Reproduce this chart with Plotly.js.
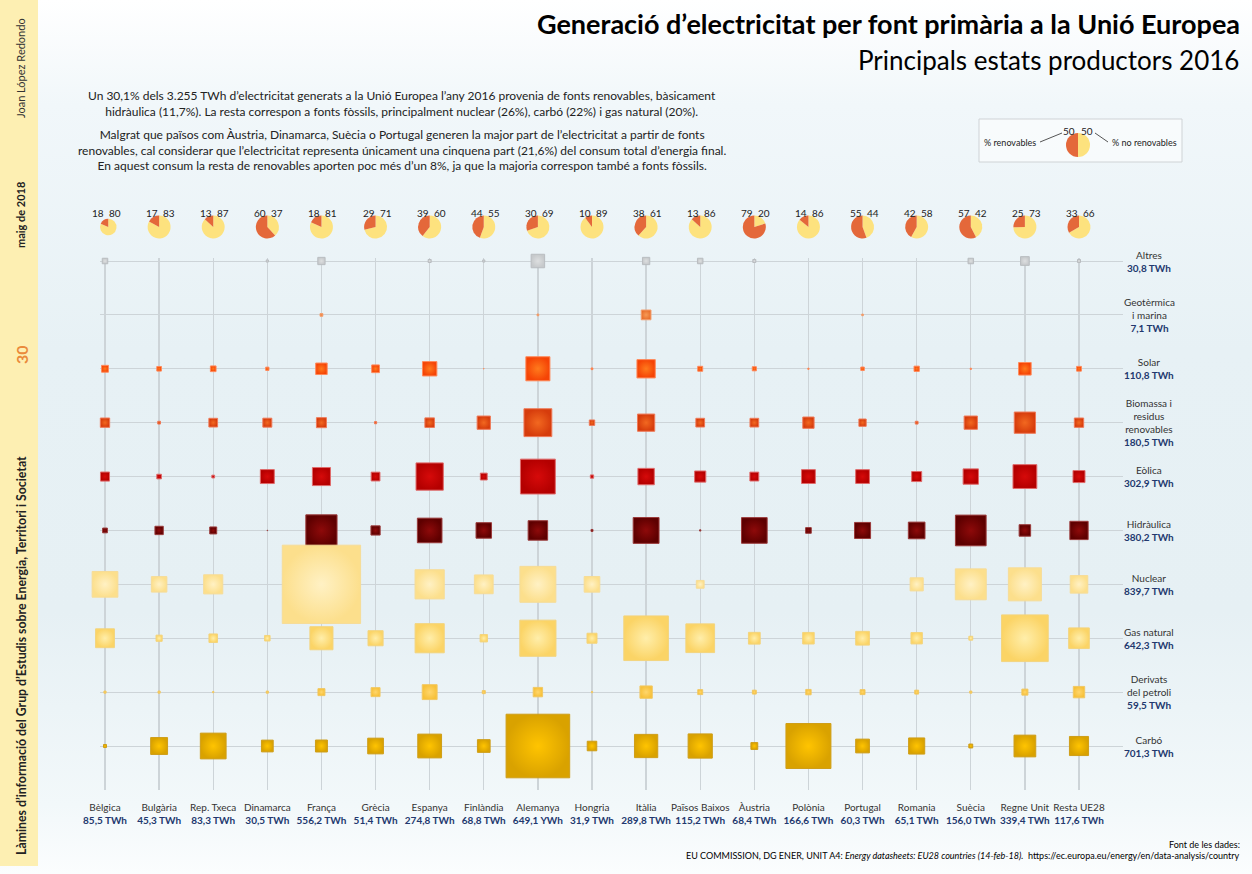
<!DOCTYPE html>
<html><head><meta charset="utf-8">
<script src="https://cdn.plot.ly/plotly-3.0.1.min.js"></script>
<style>
html,body{margin:0;padding:0;}
#chart{width:1252px;height:874px;background:linear-gradient(to bottom,#ffffff 0%,#f1f7fa 12%,#e7f1f5 40%,#e6f0f4 70%,#f2f8fa 92%,#fbfdfe 100%);}
</style></head><body><div id="chart"></div>
<script>
// ---------------- DATA ----------------
const countries = ['Bèlgica','Bulgària','Rep. Txeca','Dinamarca','França','Grècia','Espanya','Finlàndia','Alemanya','Hongria','Itàlia','Països Baixos','Àustria','Polònia','Portugal','Romania','Suècia','Regne Unit','Resta UE28'];
const countryTotalLabels = ['85,5 TWh','45,3 TWh','83,3 TWh','30,5 TWh','556,2 TWh','51,4 TWh','274,8 TWh','68,8 TWh','649,1 YWh','31,9 TWh','289,8 TWh','115,2 TWh','68,4 TWh','166,6 TWh','60,3 TWh','65,1 TWh','156,0 TWh','339,4 TWh','117,6 TWh'];
const renPct    = [18,17,13,60,18,29,39,44,30,10,38,13,79,14,55,42,57,25,33];
const nonRenPct = [80,83,87,37,81,71,60,55,69,89,61,86,20,86,44,58,42,73,66];

const sourceNames  = ['Altres','Geotèrmica<br>i marina','Solar','Biomassa i<br>residus<br>renovables','Eòlica','Hidràulica','Nuclear','Gas natural','Derivats<br>del petroli','Carbó'];
const sourceTotals = ['30,8 TWh','7,1 TWh','110,8 TWh','180,5 TWh','302,9 TWh','380,2 TWh','839,7 TWh','642,3 TWh','59,5 TWh','701,3 TWh'];

// TWh per country (same order as countries)
const altres     = [2.0,0,0,0.3,3.5,0,0.6,0.3,12,0,3.5,2.0,0.6,0,0,0,2.0,5.0,0.6];
const geotermica = [0,0,0,0,0.5,0,0,0,0.2,0,6.3,0,0,0,0.17,0,0,0,0];
const solar      = [3.1,1.4,2.1,0.7,8.7,3.9,13.6,0.02,38.1,0.2,22.1,1.6,1.1,0.1,0.8,1.8,0.1,10.4,1.5];
const biomassa   = [5.7,0.5,5.0,5.3,6.6,0.3,6.0,11.6,51,1.9,19.5,5.0,5.0,8.4,3.5,0.5,11.6,29.8,5.7];
const eolica     = [5.4,1.4,0.5,12.8,21.4,5.1,48.9,3.1,79.9,0.7,17.7,8.2,5.2,12.6,12.5,6.6,15.5,37.3,9.5];
const hidraulica = [1.5,4.6,3.2,0.02,64,5.6,39.8,15.8,25,0.26,44,0.1,43.3,2.1,16.9,18.3,62,8.7,22];
const nuclear    = [43.5,15.8,24.1,0,403.2,0,56.1,23.2,84.9,16.1,0,4.0,0,0,0,11.3,62.9,71.7,20.3];
const gasNatural = [23.4,2.5,4.8,2.0,35,15,55.9,3.6,86,6.6,131,54.2,9.1,8.8,12.4,8.5,1.0,143.4,28];
const petroli    = [0.3,0.3,0.1,0.3,3.2,5.3,14.6,0.6,5.8,0.1,10,1.6,1.0,1.9,1.6,1.0,0.3,2.4,8.5];
const carbo      = [0.6,18.8,43.6,9.1,9.4,16.2,37.2,10.6,266,6.0,35.6,38.5,3.1,133,12.4,17.1,1.0,31,24];

const sourceValues = [altres,geotermica,solar,biomassa,eolica,hidraulica,nuclear,gasNatural,petroli,carbo];

// ---------------- STYLE ----------------
const edgeColors   = ['#c6c9cb','#e8702e','#f54406','#d63c0c','#b40000','#5e0000','#fcdf8c','#fbd466','#f7c13a','#d9a200'];
const centerColors = ['#dddfe0','#f79a56','#ff7a1c','#f26820','#d60a0a','#8e0a0a','#fff1c4','#ffeeaa','#ffd66c','#ffc400'];
const lineColors   = ['#b9bdc0','#f3a070','#ff8a5a','#ef7a58','#e06a6a','#9a3a3a','#f6dc98','#f3d47e','#f1c864','#cf9e18'];

const W = 1252, H = 874, ML = 100, MR = 129, MT = 100, MB = 84;
const PW = W - ML - MR, PH = H - MT - MB;
const px = x => (x - ML) / PW;
const py = y => (H - MB - y) / PH;

const colStep = 54.11;             // px between columns
const rowStep = 53.9;              // px between rows
const xRange = [-(105 - ML) / colStep, 18 + (1123 - 1079) / colStep];
const yRange = [9 + (790 - 746) / rowStep, -(261 - 258) / rowStep];
const yDomTop = py(258);
const pxPerSqrt = 3.9;             // square side = pxPerSqrt * sqrt(TWh)

const FONT = 'Lato, "Open Sans", sans-serif';
const NAVY = '#22386e';

const traces = [];
sourceValues.forEach((vals, r) => {
  traces.push({
    type: 'scatter', mode: 'markers',
    x: countries.map((c, i) => i),
    y: countries.map(() => r),
    cliponaxis: false,
    hoverinfo: 'skip',
    showlegend: false,
    marker: {
      symbol: 'square',
      opacity: 1,
      size: vals,
      sizemode: 'area',
      sizeref: 2 / (pxPerSqrt * pxPerSqrt),
      color: edgeColors[r],
      gradient: {type: 'radial', color: centerColors[r]},
      line: {width: 1, color: lineColors[r]}
    }
  });
});

const xFrac = i => (i - xRange[0]) / (xRange[1] - xRange[0]);
const pieRowY = py(227);
const pieHalfW = 11.5 / PW, pieHalfH = 11.5 / PH;
const REN_COL = '#e4683a', NONREN_COL = '#fde27e';
// non-renewable slice first, clockwise from 12 o'clock -> renewable slice ends on the left of 12 o'clock
countries.forEach((c, i) => {
  const xc = xFrac(i);
  traces.push({
    type: 'pie', values: [nonRenPct[i], renPct[i]],
    labels: ['% no renovables', '% renovables'],
    sort: false, direction: 'clockwise', rotation: 0,
    textinfo: 'none', hoverinfo: 'skip', showlegend: false,
    marker: {colors: [NONREN_COL, REN_COL], line: {width: 0}},
    domain: {x: [xc - pieHalfW, xc + pieHalfW], y: [pieRowY - pieHalfH, pieRowY + pieHalfH]}
  });
});
// legend pie
traces.push({
  type: 'pie', values: [50, 50], labels: ['% no renovables', '% renovables'],
  sort: false, direction: 'clockwise', rotation: 0,
  textinfo: 'none', hoverinfo: 'skip', showlegend: false,
  marker: {colors: [NONREN_COL, REN_COL], line: {width: 0}},
  domain: {x: [px(1078) - 12 / PW, px(1078) + 12 / PW], y: [py(145) - 12 / PH, py(145) + 12 / PH]}
});

const annotations = [];
// pie numbers
countries.forEach((c, i) => {
  annotations.push({xref: 'x', yref: 'paper', x: i, y: py(213), xshift: -7, xanchor: 'center', yanchor: 'middle', text: String(renPct[i]),
    showarrow: false, font: {family: FONT, size: 10, color: '#222'}});
  annotations.push({xref: 'x', yref: 'paper', x: i, y: py(213), xshift: 10, xanchor: 'center', yanchor: 'middle', text: String(nonRenPct[i]),
    showarrow: false, font: {family: FONT, size: 10, color: '#222'}});
});
// right labels
sourceNames.forEach((s, r) => {
  annotations.push({xref: 'paper', yref: 'y', x: px(1149), y: r, xanchor: 'center', yanchor: 'middle',
    text: s + '<br><b><span style="color:' + NAVY + '">' + sourceTotals[r] + '</span></b>',
    showarrow: false, align: 'center', font: {family: FONT, size: 10, color: '#333'}});
});
// subtitle
annotations.push({xref: 'paper', yref: 'paper', x: px(1241), y: py(60), xanchor: 'right', yanchor: 'middle',
  text: 'Principals estats productors 2016', showarrow: false, font: {family: FONT, size: 26, color: '#000'}});
// paragraphs
annotations.push({xref: 'paper', yref: 'paper', x: px(402), y: py(103.5), xanchor: 'center', yanchor: 'middle', align: 'center',
  text: 'Un 30,1% dels 3.255 TWh d’electricitat generats a la Unió Europea l’any 2016 provenia de fonts renovables, bàsicament<br>hidràulica (11,7%). La resta correspon a fonts fòssils, principalment nuclear (26%), carbó (22%) i gas natural (20%).',
  showarrow: false, font: {family: FONT, size: 12, color: '#222'}});
annotations.push({xref: 'paper', yref: 'paper', x: px(402), y: py(149.5), xanchor: 'center', yanchor: 'middle', align: 'center',
  text: 'Malgrat que països com Àustria, Dinamarca, Suècia o Portugal generen la major part de l’electricitat a partir de fonts<br>renovables, cal considerar que l’electricitat representa únicament una cinquena part (21,6%) del consum total d’energia final.<br>En aquest consum la resta de renovables aporten poc més d’un 8%, ja que la majoria correspon també a fonts fòssils.',
  showarrow: false, font: {family: FONT, size: 12, color: '#222'}});
// legend texts
annotations.push({xref: 'paper', yref: 'paper', x: px(1038), y: py(142), xanchor: 'right', yanchor: 'middle',
  text: '% renovables', showarrow: false, font: {family: FONT, size: 9, color: '#222'}});
annotations.push({xref: 'paper', yref: 'paper', x: px(1110), y: py(142), xanchor: 'left', yanchor: 'middle',
  text: '% no renovables', showarrow: false, font: {family: FONT, size: 9, color: '#222'}});
annotations.push({xref: 'paper', yref: 'paper', x: px(1069), y: py(131), xanchor: 'center', yanchor: 'middle',
  text: '50', showarrow: false, font: {family: FONT, size: 10, color: '#222'}});
annotations.push({xref: 'paper', yref: 'paper', x: px(1087), y: py(131), xanchor: 'center', yanchor: 'middle',
  text: '50', showarrow: false, font: {family: FONT, size: 10, color: '#222'}});
// left band texts
annotations.push({xref: 'paper', yref: 'paper', x: px(21), y: py(68), textangle: -90, xanchor: 'center', yanchor: 'middle',
  text: 'Joan López Redondo', showarrow: false, font: {family: FONT, size: 11, color: '#333'}});
annotations.push({xref: 'paper', yref: 'paper', x: px(21), y: py(215), textangle: -90, xanchor: 'center', yanchor: 'middle',
  text: '<b>maig de 2018</b>', showarrow: false, font: {family: FONT, size: 11, color: '#222'}});
annotations.push({xref: 'paper', yref: 'paper', x: px(21), y: py(355), textangle: -90, xanchor: 'center', yanchor: 'middle',
  text: '<b>30</b>', showarrow: false, font: {family: FONT, size: 16, color: '#ea8a3a'}});
annotations.push({xref: 'paper', yref: 'paper', x: px(21), y: py(656), textangle: -90, xanchor: 'center', yanchor: 'middle',
  text: '<b>Làmines d’informació del Grup d’Estudis sobre Energia, Territori i Societat</b>', showarrow: false, font: {family: FONT, size: 12.3, color: '#222'}});
// source
annotations.push({xref: 'paper', yref: 'paper', x: px(1242), y: py(844), xanchor: 'right', yanchor: 'middle',
  text: 'Font de les dades:', showarrow: false, font: {family: FONT, size: 9, color: '#000'}});
annotations.push({xref: 'paper', yref: 'paper', x: px(1242), y: py(856), xanchor: 'right', yanchor: 'middle',
  text: 'EU COMMISSION, DG ENER, UNIT A4: <i>Energy datasheets: EU28 countries (14-feb-18).</i>  https://ec.europa.eu/energy/en/data-analysis/country',
  showarrow: false, font: {family: FONT, size: 9, color: '#000'}});

const shapes = [
  {type: 'rect', xref: 'paper', yref: 'paper', x0: px(0), x1: px(38), y0: py(866), y1: py(0), fillcolor: '#fdefb2', line: {width: 0}, layer: 'below'},
  {type: 'rect', xref: 'paper', yref: 'paper', x0: px(979), x1: px(1182), y0: py(162), y1: py(119), fillcolor: 'rgba(255,255,255,0.5)', line: {width: 1, color: '#cfd3d6'}, layer: 'below'},
  {type: 'line', xref: 'paper', yref: 'paper', x0: px(1040), y0: py(142), x1: px(1062), y1: py(133), line: {width: 1, color: '#555'}},
  {type: 'line', xref: 'paper', yref: 'paper', x0: px(1095), y0: py(133), x1: px(1108), y1: py(142), line: {width: 1, color: '#555'}}
];

const layout = {
  width: W, height: H,
  margin: {l: ML, r: MR, t: MT, b: MB, pad: 0},
  paper_bgcolor: 'rgba(0,0,0,0)', plot_bgcolor: 'rgba(0,0,0,0)',
  font: {family: FONT},
  title: {text: '<b>Generació d’electricitat per font primària a la Unió Europea</b>', xref: 'container', yref: 'container',
    x: 1240 / W, xanchor: 'right', y: 1 - 25 / H, yanchor: 'middle', font: {family: FONT, size: 27, color: '#000'}},
  showlegend: false,
  xaxis: {range: xRange, domain: [0, 1], tickvals: countries.map((c, i) => i),
    ticktext: countries.map((c, i) => c + '<br><b><span style="color:' + NAVY + '">' + countryTotalLabels[i] + '</span></b>'),
    tickangle: 0, ticklabelstandoff: 10, showgrid: true, gridcolor: '#cdd4d8', gridwidth: 1.3, zeroline: false, showline: false, ticks: '',
    tickfont: {family: FONT, size: 10, color: '#333'}, fixedrange: true},
  yaxis: {range: yRange, domain: [0, yDomTop], tickvals: sourceNames.map((s, r) => r), showticklabels: false,
    showgrid: true, gridcolor: '#cdd4d8', gridwidth: 1, zeroline: false, showline: false, ticks: '', fixedrange: true},
  annotations: annotations,
  shapes: shapes
};

Plotly.newPlot('chart', traces, layout, {displayModeBar: false, staticPlot: true});
</script></body></html>
